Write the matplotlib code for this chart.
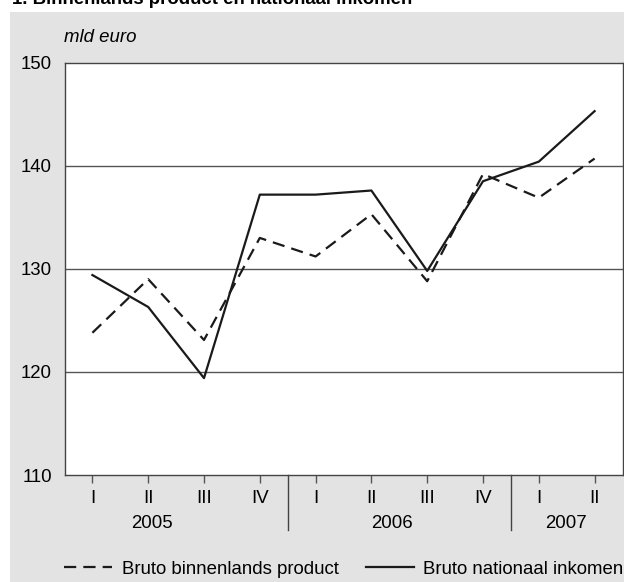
"""
plot.py — Binnenlands product en nationaal inkomen per kwartaal (mld euro),
2005-I t/m 2007-II. Lijnen: BBP (gestreept) en BNI (doorgetrokken).
"""
import matplotlib
matplotlib.use("Agg")
import matplotlib.pyplot as plt
from matplotlib.patches import Rectangle
from matplotlib.transforms import blended_transform_factory

plt.rcParams["font.family"] = ["Liberation Sans", "DejaVu Sans"]

TITEL = "1. Binnenlands product en nationaal inkomen"
EENHEID = "mld euro"

kwartalen = ["I", "II", "III", "IV", "I", "II", "III", "IV", "I", "II"]
jaren = ["2005", "2006", "2007"]
jaar_grenzen = [3.5, 7.5]

bbp = [123.8, 129.0, 123.1, 133.0, 131.2, 135.3, 128.8, 139.2, 136.9, 140.7]
bni = [129.4, 126.3, 119.4, 137.2, 137.2, 137.6, 129.8, 138.5, 140.4, 145.3]

# positie van de jaarlabels onder de as (zoals in het origineel)
JAAR_X = [1.07, 5.37, 8.49]
GRIJS = "#e3e3e3"
FS = 13.4

fig = plt.figure(figsize=(6.24, 5.82), dpi=100, facecolor="white")
fig.patches.append(Rectangle((10 / 624, 0), 1 - 10 / 624, (582 - 12) / 582,
                             transform=fig.transFigure, facecolor=GRIJS,
                             edgecolor="none", zorder=-5))

ax = fig.add_axes([64.5 / 624, (582 - 475) / 582, 558 / 624, (475 - 62.7) / 582])
ax.set_facecolor("white")

x = list(range(len(kwartalen)))
ax.plot(x, bbp, color="#1a1a1a", lw=1.6, linestyle=(0, (5.5, 3.2)),
        label="Bruto binnenlands product", zorder=3)
ax.plot(x, bni, color="#1a1a1a", lw=1.6, label="Bruto nationaal inkomen", zorder=3)

ax.set_xlim(-0.5, len(kwartalen) - 0.5)
ax.set_ylim(110, 150)
ax.set_yticks([110, 120, 130, 140, 150])
ax.tick_params(axis="y", length=0, pad=9, labelsize=FS)
ax.set_xticks(x)
ax.set_xticklabels(kwartalen)
ax.tick_params(axis="x", direction="out", length=6, width=1, color="#555555",
               pad=5, labelsize=FS)

for g in [120, 130, 140]:
    ax.axhline(g, color="#555555", lw=1, zorder=1)

for s in ax.spines.values():
    s.set_color("#444444")
    s.set_linewidth(1)

trans = blended_transform_factory(ax.transData, ax.transAxes)
onder = -55 / 412.3
for g in jaar_grenzen:
    ax.plot([g, g], [0, onder], color="#444444", lw=1, transform=trans, clip_on=False)
for jx, jaar in zip(JAAR_X, jaren):
    ax.text(jx, -48 / 412.3, jaar, transform=trans, ha="center", va="center", fontsize=FS)

fig.text(64 / 624, 1 - 37 / 582, EENHEID, style="italic", fontsize=FS, va="center")
fig.text(12 / 624, 1 - 4 / 582, TITEL, fontweight="bold", fontsize=FS, va="baseline")

fig.legend(loc="lower left", bbox_to_anchor=(64 / 624, 4 / 582), ncol=2,
           frameon=False, fontsize=FS, handlelength=2.6, handletextpad=0.5,
           columnspacing=1.45, borderpad=0, borderaxespad=0)

fig.savefig("out.png", dpi=100, facecolor="white")
